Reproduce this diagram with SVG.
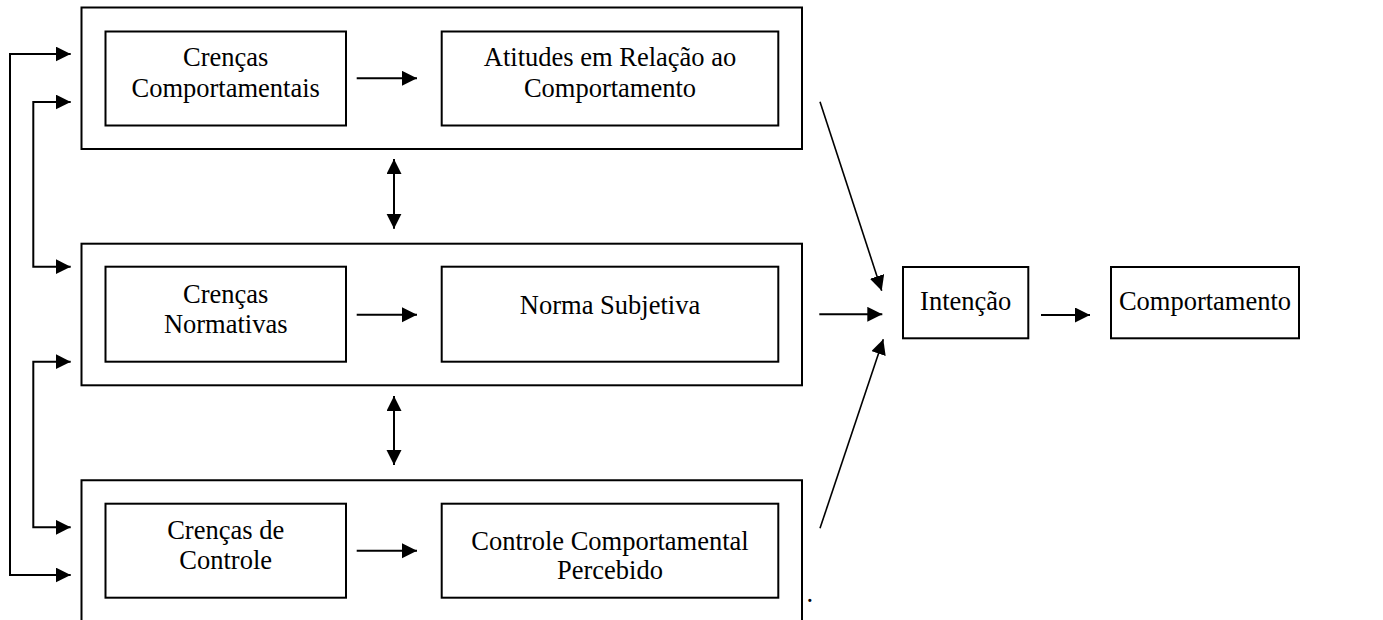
<svg xmlns="http://www.w3.org/2000/svg" width="1383" height="620" viewBox="0 0 1383 620">
<style>
.box{fill:none;stroke:#000;stroke-width:2}
.ln{fill:none;stroke:#000;stroke-width:2}
.dg{fill:none;stroke:#000;stroke-width:1.6}
text{font-family:"Liberation Serif","Times New Roman",serif;font-size:26.5px;fill:#000;text-anchor:middle}
</style>
<defs>
<marker id="ah" markerUnits="userSpaceOnUse" markerWidth="16" markerHeight="16" viewBox="0 0 16 16" refX="15" refY="7.5" orient="auto-start-reverse">
<path d="M0,0 L15,7.5 L0,15 z" fill="#000"/>
</marker>
</defs>
<rect width="1383" height="620" fill="#fff"/>
<g id="group1">
<rect class="box" x="81.5" y="7.5" width="720.5" height="141.5"/>
</g>
<g id="group2">
<rect class="box" x="81.5" y="243.7" width="720.5" height="141.6"/>
</g>
<g id="group3">
<path class="box" d="M81.5,625 V480.3 H802 V625"/>
</g>
<g id="crencas-comportamentais">
<rect class="box" x="105.5" y="31.5" width="240.5" height="94"/>
<text x="225.7" y="65.7">Crenças</text>
<text x="225.7" y="96.7">Comportamentais</text>
</g>
<g id="atitudes">
<rect class="box" x="441.7" y="31.5" width="336.6" height="94"/>
<text x="610" y="65.7">Atitudes em Relação ao</text>
<text x="610" y="96.7">Comportamento</text>
</g>
<g id="crencas-normativas">
<rect class="box" x="105.5" y="266.7" width="240.5" height="95"/>
<text x="225.7" y="302.7">Crenças</text>
<text x="225.7" y="333.3">Normativas</text>
</g>
<g id="norma-subjetiva">
<rect class="box" x="441.7" y="266.7" width="336.6" height="95"/>
<text x="610" y="314">Norma Subjetiva</text>
</g>
<g id="crencas-controle">
<rect class="box" x="105.5" y="503.7" width="240.5" height="94"/>
<text x="225.7" y="539">Crenças de</text>
<text x="225.7" y="569.3">Controle</text>
</g>
<g id="controle-percebido">
<rect class="box" x="441.7" y="503.7" width="336.6" height="94"/>
<text x="610" y="550">Controle Comportamental</text>
<text x="610" y="579.3">Percebido</text>
</g>
<g id="intencao">
<rect class="box" x="903" y="267" width="125.3" height="71.3"/>
<text x="965.7" y="310">Intenção</text>
</g>
<g id="comportamento">
<rect class="box" x="1111" y="267" width="188" height="71.3"/>
<text x="1205" y="310">Comportamento</text>
</g>
<g id="dot">
<text x="806.5" y="602" style="text-anchor:start">.</text>
</g>
<g id="connectors">
<line class="ln" x1="356.7" y1="78.3" x2="417" y2="78.3" marker-end="url(#ah)"/>
<line class="ln" x1="356.7" y1="314.7" x2="417" y2="314.7" marker-end="url(#ah)"/>
<line class="ln" x1="356.7" y1="550.7" x2="417" y2="550.7" marker-end="url(#ah)"/>
<line class="ln" x1="394" y1="159" x2="394" y2="228.7" marker-start="url(#ah)" marker-end="url(#ah)"/>
<line class="ln" x1="394" y1="396" x2="394" y2="465" marker-start="url(#ah)" marker-end="url(#ah)"/>
<path class="ln" d="M70.7,54 H10 V575 H70.7" marker-start="url(#ah)" marker-end="url(#ah)"/>
<path class="ln" d="M70.7,102 H33.3 V266.7 H70.7" marker-start="url(#ah)" marker-end="url(#ah)"/>
<path class="ln" d="M70.7,361.7 H33.3 V527.3 H70.7" marker-start="url(#ah)" marker-end="url(#ah)"/>
<line class="dg" x1="820" y1="101.7" x2="881.7" y2="290.7" marker-end="url(#ah)"/>
<line class="ln" x1="819.3" y1="314.3" x2="882.3" y2="314.3" marker-end="url(#ah)"/>
<line class="dg" x1="820" y1="528.3" x2="883.3" y2="339.3" marker-end="url(#ah)"/>
<line class="ln" x1="1041" y1="315" x2="1090" y2="315" marker-end="url(#ah)"/>
</g>
</svg>
